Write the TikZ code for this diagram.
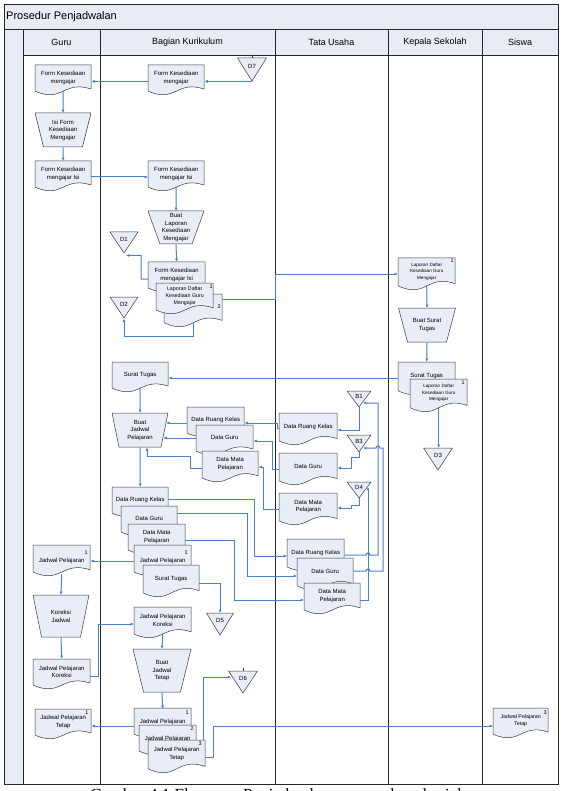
\documentclass[tikz,border=0pt]{standalone}
\usepackage{fontspec}
\setmainfont{Liberation Sans}
\newfontfamily\capfont{Liberation Serif}
\usetikzlibrary{arrows.meta,calc}
\definecolor{shapefill}{HTML}{E8EDF7}
\definecolor{hdrfill}{HTML}{E7ECF5}
\definecolor{lnk}{HTML}{4A80CC}
\definecolor{edgecol}{HTML}{3C3C3C}
\tikzset{
  shp/.style={draw=edgecol, fill=shapefill, line width=0.5pt, line join=round},
  txt/.style={inner sep=0pt, align=center, font=\fontsize{6}{7.6}\selectfont},
  stxt/.style={inner sep=0pt, align=center, font=\fontsize{5.3}{6.9}\selectfont},
  ktxt/.style={inner sep=0pt, align=center, font=\fontsize{4.6}{6.5}\selectfont},
  num/.style={inner sep=0pt, font=\fontsize{5.4}{5.4}\selectfont},
  hdr/.style={inner sep=0pt, font=\fontsize{9}{9}\selectfont},
  arr/.style={draw=lnk, color=lnk, line width=1pt, -{Latex[length=3.4pt,width=3pt]}},
  lane/.style={draw=black!85, line width=0.8pt},
}
% document shape: [style]{name}{left}{top}{w}{h}{text}
\newcommand{\Doc}[7][txt]{%
  \pgfmathsetmacro\rsR{#4+0.80*#6}%
  \pgfmathsetmacro\rsL{#4+0.87*#6}%
  \pgfmathsetmacro\rsA{#4+0.50*#6}%
  \pgfmathsetmacro\rsB{#4+1.28*#6}%
  \pgfmathsetmacro\rsM{#3+0.5*#5}%
  \pgfmathsetmacro\rsE{#3+#5}%
  \pgfmathsetmacro\rsH{0.84*#6}%
  \draw[shp] (#3,#4) -- (\rsE,#4) -- (\rsE,\rsR) .. controls (\rsM,\rsA) and (\rsM,\rsB) .. (#3,\rsL) -- cycle;
  \node[#1, minimum width=#5pt, minimum height=\rsH pt, anchor=north west] (#2) at (#3,#4) {#7};
}
% off-page triangle: {name}{cx}{top}{w}{h}{label}
\newcommand{\Tri}[6]{%
  \pgfmathsetmacro\rsTL{#2-0.5*#4}%
  \pgfmathsetmacro\rsTR{#2+0.5*#4}%
  \pgfmathsetmacro\rsTB{#3+#5}%
  \pgfmathsetmacro\rsTT{#3+0.36*#5}%
  \draw[shp] (\rsTL,#3) -- (\rsTR,#3) -- (#2,\rsTB) -- cycle;
  \node[inner sep=0pt, minimum width=#4pt, minimum height=#5pt, anchor=north] (#1) at (#2,#3) {};
  \node[txt] (#1-lab) at (#2,\rsTT) {#6};
}
% manual operation: {name}{cx}{top}{wtop}{wbot}{h}{text}
\newcommand{\Trap}[7]{%
  \pgfmathsetmacro\rsPa{#2-0.5*#4}%
  \pgfmathsetmacro\rsPb{#2+0.5*#4}%
  \pgfmathsetmacro\rsPc{#2+0.5*#5}%
  \pgfmathsetmacro\rsPd{#2-0.5*#5}%
  \pgfmathsetmacro\rsPe{#3+#6}%
  \draw[shp] (\rsPa,#3) -- (\rsPb,#3) -- (\rsPc,\rsPe) -- (\rsPd,\rsPe) -- cycle;
  \node[txt, minimum width=#4pt, minimum height=#6pt, anchor=north] (#1) at (#2,#3) {#7};
}
\begin{document}
\begin{tikzpicture}[x=1pt,y=-1pt]
\useasboundingbox (0,0) rectangle (561,791);
\fill[white] (0,0) rectangle (561,791);
% frame and lanes
\fill[hdrfill] (4,4) rectangle (558,29);
\fill[hdrfill] (4,29) rectangle (23,784);
\fill[hdrfill] (23,29) rectangle (558,55);
\draw[lane] (4,4) rectangle (558,784);
\draw[lane] (4,29) -- (558,29);
\draw[lane] (23,55) -- (558,55);
\foreach \xx in {23,100,275,388,482} \draw[lane] (\xx,29) -- (\xx,784);
\node[anchor=west, inner sep=0pt, font=\fontsize{11}{11}\selectfont] (title) at (6,16.5) {Prosedur Penjadwalan};
\node[hdr] (hguru) at (61.5,42) {Guru};
\node[hdr] (hbk) at (187.5,42) {Bagian Kurikulum};
\node[hdr] (htu) at (331.5,42) {Tata Usaha};
\node[hdr] (hks) at (435,42) {Kepala Sekolah};
\node[hdr] (hsw) at (520,42) {Siswa};
% caption (cut off by the page edge, as in the reference)
\node[anchor=base west, inner sep=0pt, font=\capfont\fontsize{17}{17}\selectfont] (cap) at (90,800) {Gambar 4.1 Flowmap Penjadwalan yang sedang berjalan};

% ---------------- Guru
\Doc{g1}{35}{65}{56}{30}{Form Kesediaan\\mengajar}
\Trap{g2}{63}{113}{56}{39}{34}{Isi Form\\Kesediaan\\Mengajar}
\Doc{g3}{35}{161}{56}{30}{Form Kesediaan\\mengajar Isi}
\Doc[txt,yshift=-3pt]{g4}{33}{545}{57}{31}{Jadwal Pelajaran}
\node[num] (g4n) at (86,553) {1};
\Trap{g5}{61}{595}{56}{39}{42}{Koreksi\\Jadwal}
\Doc{g6}{33}{659}{57}{30}{Jadwal Pelajaran\\Koreksi}
\Doc{g7}{35}{709}{56}{30}{Jadwal Pelajaran\\Tetap}
\node[num] (g7n) at (87,713) {1};

% ---------------- Bagian Kurikulum
\Doc{b1}{148}{65}{56}{30}{Form Kesediaan\\mengajar}
\Tri{d7}{252}{58}{29}{23}{D7}
\draw[edgecol, line width=0.5pt] (d7.north) -- ++(0,-3);
\Doc{b2}{148}{161}{56}{30}{Form Kesediaan\\mengajar Isi}
\Trap{b3}{176}{211}{56}{32}{33}{Buat\\Laporan\\Kesediaan\\Mengajar}
\Doc{b4}{148}{262}{57}{30}{Form Kesediaan\\mengajar Isi}
\Doc[stxt]{b5b}{164}{294}{58}{33}{}
\node[num] (b5bn) at (219,307) {2};
\Doc[stxt]{b5a}{156}{283}{57}{31}{Laporan Daftar\\Kesediaan Guru\\Mengajar}
\node[num] (b5an) at (211,286.5) {1};
\Tri{d1}{124}{232}{28}{21}{D1}
\Tri{d2}{124}{297}{28}{21}{D2}
\Doc{b6}{112}{362}{56}{30}{Surat Tugas}
\Trap{b7}{140}{413}{56}{42}{34}{Buat\\Jadwal\\Pelajaran}
\Doc{b8a}{187}{407}{57}{30}{Data Ruang Kelas}
\Doc{b8b}{196}{425}{57}{30}{Data Guru}
\Doc{b8c}{202}{451}{56}{31}{Data Mata\\Pelajaran}
\Doc{b9a}{112}{487}{56}{30}{Data Ruang Kelas}
\Doc{b9b}{121}{506}{56}{30}{Data Guru}
\Doc{b9c}{128}{524}{57}{30}{Data Mata\\Pelajaran}
\Doc[txt,yshift=-3pt]{b9d}{134}{545}{57}{31}{Jadwal Pelajaran}
\node[num] (b9dn) at (186,553) {1};
\Doc{b9e}{143}{565}{56}{32}{Surat Tugas}
\Tri{d5}{220}{613}{27}{22}{D5}
\Doc{b10}{134}{607}{57}{31}{Jadwal Pelajaran\\Koreksi}
\Trap{b11}{162}{649}{58}{37}{43}{Buat\\Jadwal\\Tetap}
\Doc[txt,yshift=-1pt]{b12a}{134}{708}{57}{30}{Jadwal Pelajaran}
\node[num] (b12an) at (187,713) {1};
\Doc[txt,yshift=-1pt]{b12b}{139}{725}{57}{30}{Jadwal Pelajaran}
\node[num] (b12bn) at (192,729) {2};
\Doc{b12c}{148}{740}{57}{33}{Jadwal Pelajaran\\Tetap}
\node[num] (b12cn) at (200,744) {3};
\Tri{d6}{243}{671}{29}{22}{D6}
\draw[edgecol, line width=0.5pt] (d6.north) -- ++(0,-3);

% ---------------- Tata Usaha
\Doc{t1}{279}{413}{58}{32}{Data Ruang Kelas}
\Doc{t2}{279}{453}{58}{32}{Data Guru}
\Doc{t3}{279}{493}{58}{32}{Data Mata\\Pelajaran}
\Tri{tb1}{359}{391}{24}{16}{B1}
\Tri{tb3}{359}{435}{24}{17}{B3}
\Tri{td4}{359}{482}{24}{16}{D4}
\Doc{t4a}{287}{539}{57}{32}{Data Ruang Kelas}
\Doc{t4b}{297}{558}{56}{32}{Data Guru}
\Doc{t4c}{304}{583}{56}{31}{Data Mata\\Pelajaran}

% ---------------- Kepala Sekolah
\Doc[ktxt]{k1}{398}{258}{57}{32}{Laporan Daftar\\Kesediaan Guru\\Mengajar}
\node[num] (k1n) at (452,261) {1};
\Trap{k2}{427}{308}{57}{39}{34}{Buat Surat\\Tugas}
\Doc{k3}{398}{362}{57}{33}{Surat Tugas}
\Doc[ktxt]{k4}{410}{379}{57}{33}{Laporan Daftar\\Kesediaan Guru\\Mengajar}
\node[num] (k4n) at (463,382.5) {1};
\Tri{kd3}{438}{448}{29}{22}{D3}

% ---------------- Siswa
\Doc[stxt]{s1}{493}{708}{55}{30}{Jadwal Pelajaran\\Tetap}
\node[num] (s1n) at (545,712.5) {3};

% ---------------- connectors
\draw[arr] (d7.south) -- (b1.east |- d7.south);
\draw[arr] (b1.west |- d7.south) -- (g1.east |- d7.south);
\draw[arr] (g1.south) -- (g2.north);
\draw[arr] (g2.south) -- (g3.north);
\draw[arr] (g3.east |- 0,177) -- (b2.west |- 0,177);
\draw[arr] (b2.south) -- (b3.north);
\draw[arr] (b3.south) -- (b4.north);
\draw[arr] (b4.west |- 0,279) -- (141,279) -- (141,255.5) -- ([xshift=2pt,yshift=-2pt]d1.south);
\draw[arr] (b5b.south) -- (b5b.south |- 0,336) -| (d2.south);
\draw[arr] (b5b.east |- 0,299) -- (275,299) |- (k1.west |- 0,274);
\draw[arr] (k1.south) -- (k2.north);
\draw[arr] (k2.south) -- (k3.north);
\draw[arr] (k3.west |- 0,378) -- (b6.east |- 0,378);
\draw[arr] (k4.south) -- (k4.south |- kd3.north);
\draw[arr] (b6.south) -- (b7.north);
\draw[arr] (b8a.west |- 0,423) -- ([xshift=-2pt]b7.east |- 0,423);
\draw[arr] (b8b.west |- 0,438) -- ([xshift=-5pt]b7.east |- 0,438);
\draw[arr] (b8c.west |- 0,468) -- (190,468) |- (147,456) -- ([xshift=7pt]b7.south);
\draw[arr] (tb1.south) -- (359,430) -- (t1.east |- 0,430);
\draw[arr] (tb3.south) -- (359,457) -- (351,457) -- (351,468) -- (t2.east |- 0,468);
\draw[arr] (td4.south) -- (359,505) -- (351,505) -- (351,508) -- (t3.east |- 0,508);
\draw[arr] (t1.west |- 0,428) -- (277,428) -- (277,423) -- (b8a.east |- 0,423);
\draw[arr] (t2.west |- 0,469) -- (272,469) -- (272,441) -- (b8b.east |- 0,441);
\draw[arr] (t3.west |- 0,509) -- (263,509) -- (263,467) -- (b8c.east |- 0,467);
\draw[arr] (b7.south) -- (b9a.north);
\draw[arr] (b9a.east |- 0,499) -- (254,499) |- (t4a.west |- 0,556);
\draw[arr] (b9b.east |- 0,513) -- (247,513) |- (t4b.west |- 0,576);
\draw[arr] (b9c.east |- 0,540) -- (234,540) |- (t4c.west |- 0,600);
\draw[arr] (b9e.east |- 0,583) -| (d5.north);
\draw[arr] (b9d.west |- 0,561) -- (g4.east |- 0,561);
\draw[arr] (g4.south) -- (g5.north);
\draw[arr] (g5.south) -- (g6.north);
\draw[arr] (g6.east |- 0,676) -- (98,676) |- (b10.west |- 0,624);
\draw[arr] (b10.south) -- (b11.north);
\draw[arr] (b11.south) -- (b12a.north);
\draw[arr] (b12a.west |- 0,726) -- (g7.east |- 0,726);
\draw[arr] ([xshift=-2pt]b12c.north east) |- ([xshift=3pt,yshift=5pt]d6.west);
\draw[arr] (b12c.east |- 0,757) -- (213,757) |- (s1.west |- 0,726);
% lower Tata Usaha documents to the connectors, with line hops
\draw[arr] (t4a.east |- 0,555) -- (366,555) arc[start angle=180,end angle=0,radius=2pt] -- (378,555) -- (378,403) -- (363,403);
\draw[arr] (t4b.east |- 0,571) -- (366,571) arc[start angle=180,end angle=0,radius=2pt] -- (383,571) -- (383,448) -- (380,448) arc[start angle=0,end angle=180,radius=2pt] -- (363,448);
\draw[arr] (t4c.east |- 0,600) -- (368,600) -- (368,487);
\end{tikzpicture}
\end{document}
